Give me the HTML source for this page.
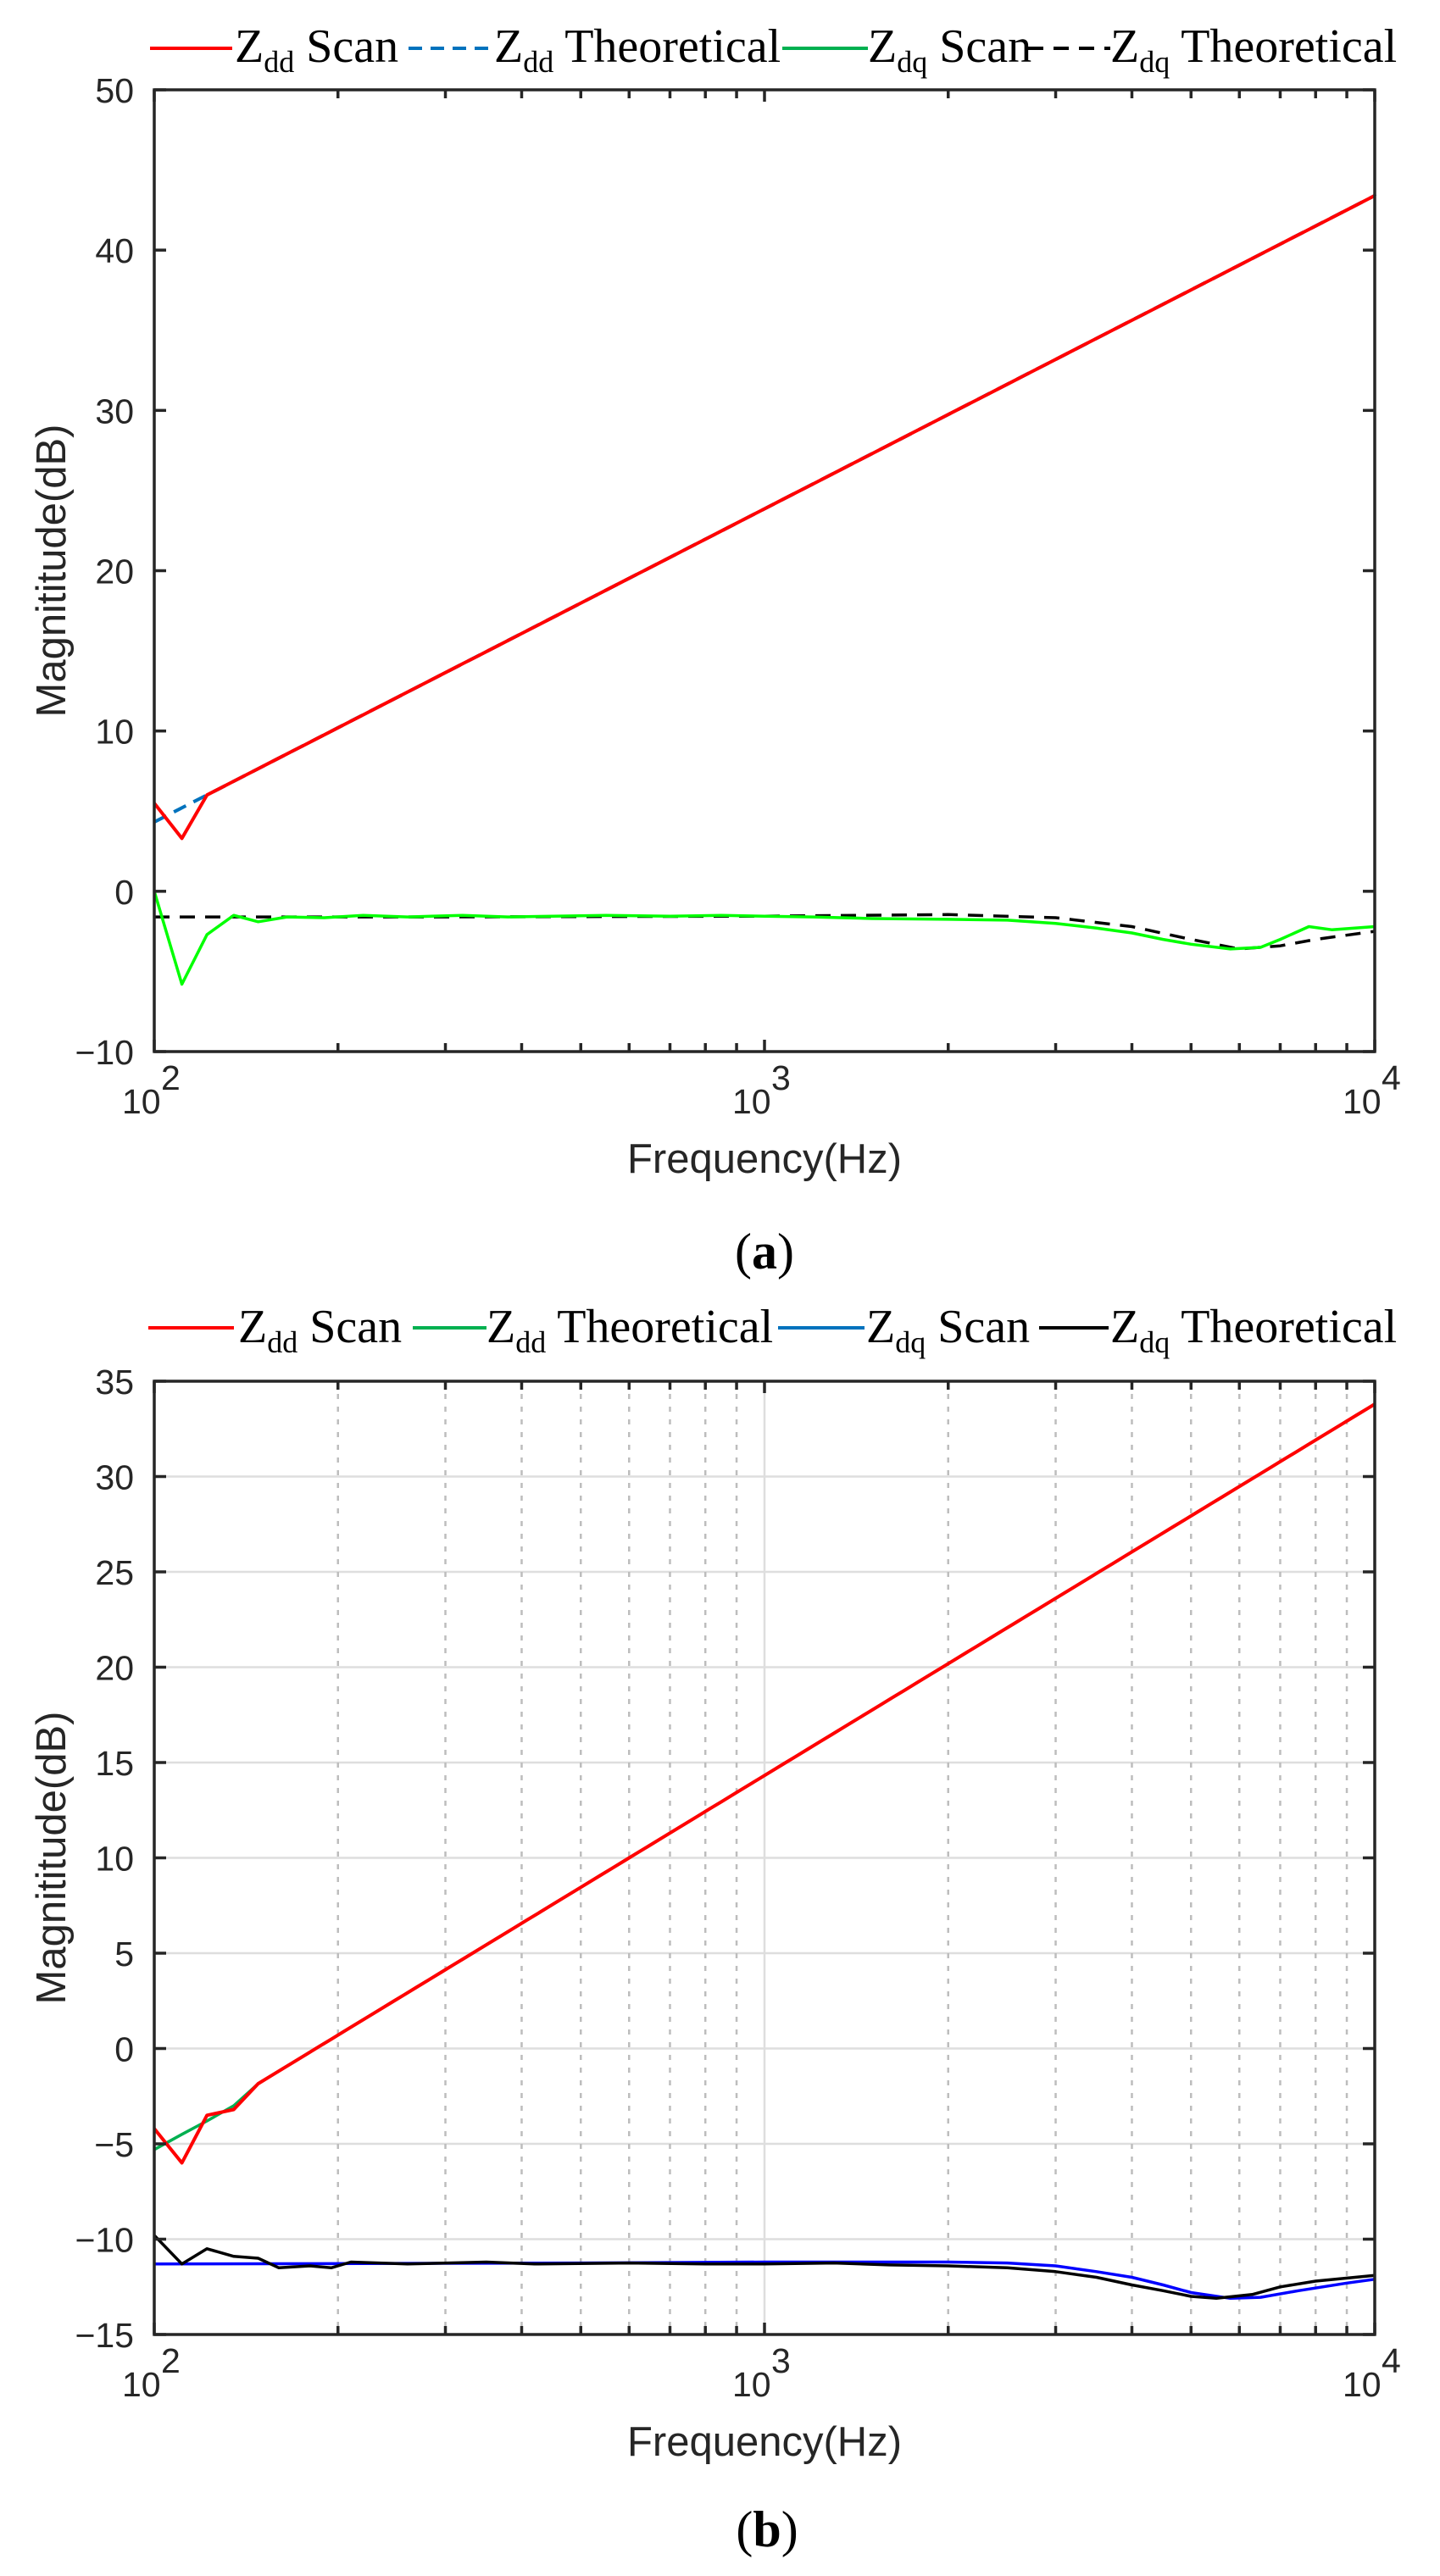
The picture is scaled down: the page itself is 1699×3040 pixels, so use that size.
<!DOCTYPE html>
<html><head><meta charset="utf-8"><style>
html,body{margin:0;padding:0;background:#fff;}
svg{display:block;}
.tk{font-family:"Liberation Sans",Arial,sans-serif;font-size:41px;fill:#262626;}
.lb{font-family:"Liberation Sans",Arial,sans-serif;font-size:49px;fill:#262626;}
.lg{font-family:"Liberation Serif","Times New Roman",serif;font-size:56px;fill:#000;}
.cap{font-family:"Liberation Serif","Times New Roman",serif;font-size:60px;fill:#000;}
</style></head><body>
<svg id="s" width="1699" height="3040" viewBox="0 0 1699 3040" xmlns="http://www.w3.org/2000/svg">
<rect width="1699" height="3040" fill="#fff"/>
<g id="g"></g>
<!-- legend a -->
<line x1="177" y1="57" x2="274" y2="57" stroke="#ff0000" stroke-width="4"/>
<text class="lg" x="277" y="73">Z<tspan font-size="36" dy="12">dd</tspan><tspan dy="-12"> Scan</tspan></text>
<line x1="482" y1="57" x2="583" y2="57" stroke="#0072bd" stroke-width="4" stroke-dasharray="16,10"/>
<text class="lg" x="583" y="73">Z<tspan font-size="36" dy="12">dd</tspan><tspan dy="-12"> Theoretical</tspan></text>
<line x1="923" y1="57" x2="1024" y2="57" stroke="#00b050" stroke-width="4"/>
<text class="lg" x="1024" y="73">Z<tspan font-size="36" dy="12">dq</tspan><tspan dy="-12"> Scan</tspan></text>
<line x1="1213" y1="57" x2="1310" y2="57" stroke="#000" stroke-width="4" stroke-dasharray="18,12"/>
<text class="lg" x="1310" y="73">Z<tspan font-size="36" dy="12">dq</tspan><tspan dy="-12"> Theoretical</tspan></text>
<!-- legend b -->
<line x1="175" y1="1567" x2="276" y2="1567" stroke="#ff0000" stroke-width="4"/>
<text class="lg" x="281" y="1584">Z<tspan font-size="36" dy="12">dd</tspan><tspan dy="-12"> Scan</tspan></text>
<line x1="487" y1="1567" x2="574" y2="1567" stroke="#00b050" stroke-width="4"/>
<text class="lg" x="574" y="1584">Z<tspan font-size="36" dy="12">dd</tspan><tspan dy="-12"> Theoretical</tspan></text>
<line x1="918" y1="1567" x2="1020" y2="1567" stroke="#0072bd" stroke-width="4"/>
<text class="lg" x="1022" y="1584">Z<tspan font-size="36" dy="12">dq</tspan><tspan dy="-12"> Scan</tspan></text>
<line x1="1226" y1="1567" x2="1308" y2="1567" stroke="#000" stroke-width="4"/>
<text class="lg" x="1310" y="1584">Z<tspan font-size="36" dy="12">dq</tspan><tspan dy="-12"> Theoretical</tspan></text>
<!-- captions -->
<text class="cap" x="902" y="1497" text-anchor="middle">(<tspan font-weight="bold">a</tspan>)</text>
<text class="cap" x="905" y="3005" text-anchor="middle">(<tspan font-weight="bold">b</tspan>)</text>
</svg>
<script>
(function(){
var NS="http://www.w3.org/2000/svg",g=document.getElementById("g");
function el(n,a,t){var e=document.createElementNS(NS,n);for(var k in a)e.setAttribute(k,a[k]);if(t!=null)e.textContent=t;g.appendChild(e);return e;}
var L=182,R=1622,DW=720;
function X(f){return L+DW*Math.log10(f/100);}
function axes(top,bot,vmax,vmin,step,grid){
  function Y(v){return top+(vmax-v)*(bot-top)/(vmax-vmin);}
  var minors=[];for(var d=100;d<10000;d*=10)for(var k=2;k<=9;k++)minors.push(d*k);
  if(grid){
    for(var v=vmin;v<=vmax;v+=step) el("line",{x1:L,x2:R,y1:Y(v),y2:Y(v),stroke:"#dedede","stroke-width":2.5});
    minors.forEach(function(f){el("line",{x1:X(f),x2:X(f),y1:top,y2:bot,stroke:"#bdbdbd","stroke-width":2.5,"stroke-dasharray":"6,9"});});
    el("line",{x1:X(1000),x2:X(1000),y1:top,y2:bot,stroke:"#dedede","stroke-width":2.5});
  }
  return Y;
}
function frame(top,bot,vmax,vmin,step,Y){
  el("rect",{x:L,y:top,width:R-L,height:bot-top,fill:"none",stroke:"#262626","stroke-width":3.5});
  for(var v=vmin;v<=vmax;v+=step){
    el("line",{x1:L,x2:L+14,y1:Y(v),y2:Y(v),stroke:"#262626","stroke-width":3.5});
    el("line",{x1:R,x2:R-14,y1:Y(v),y2:Y(v),stroke:"#262626","stroke-width":3.5});
    el("text",{"class":"tk",x:158,y:Y(v)+15,"text-anchor":"end"},(v<0?"\u2212":"")+Math.abs(v));
  }
  for(var d=100;d<=10000;d*=10)for(var k=1;k<=9;k++){var f=d*k;if(f>10000)break;
    var len=(k==1)?14:10;
    el("line",{x1:X(f),x2:X(f),y1:bot,y2:bot-len,stroke:"#262626","stroke-width":3.5});
    el("line",{x1:X(f),x2:X(f),y1:top,y2:top+len,stroke:"#262626","stroke-width":3.5});
  }
  [[100,"2"],[1000,"3"],[10000,"4"]].forEach(function(p){
    el("text",{"class":"tk",x:X(p[0])-38,y:bot+73},"10");
    el("text",{"class":"tk",x:X(p[0])+8,y:bot+45,"font-size":29},p[1]);
  });
  el("text",{"class":"lb",x:(L+R)/2,y:bot+143,"text-anchor":"middle"},"Frequency(Hz)");
  var cy=(top+bot)/2;
  el("text",{"class":"lb",x:77,y:cy,"text-anchor":"middle",transform:"rotate(-90 77 "+cy+")"},"Magnititude(dB)");
}
function poly(pts,Y,col,w,dash){
  var s=pts.map(function(p){return X(p[0]).toFixed(1)+","+Y(p[1]).toFixed(1);}).join(" ");
  var a={points:s,fill:"none",stroke:col,"stroke-width":w,"stroke-linejoin":"round"};
  if(dash)a["stroke-dasharray"]=dash;el("polyline",a);
}
function line(f0,a,b){var p=[];for(var lf=Math.log10(f0);lf<=4.0001;lf+=0.02){p.push([Math.pow(10,lf),a-b*(4-lf)]);}p.push([10000,a]);return p;}
// Plot a
var Ya=axes(106,1241,50,-10,10,false);
var zddT=line(100,43.4,19.54);
poly(zddT,Ya,"#0072bd",4,"16,10");
var zdd=[[100,5.5],[111,3.3]].concat(line(122,43.4,19.54));
poly(zdd,Ya,"#ff0000",4);
var dqT=[[100,-1.6],[300,-1.6],[1000,-1.55],[2000,-1.45],[3000,-1.65],[4000,-2.2],[5000,-3.0],[6000,-3.6],[7000,-3.4],[8000,-3.0],[10000,-2.5]];
poly(dqT,Ya,"#000",3.5,"18,12");
var dq=[[100,0],[111,-5.8],[122,-2.7],[135,-1.5],[148,-1.9],[165,-1.6],[190,-1.65],[220,-1.5],[260,-1.6],[320,-1.5],[380,-1.6],[450,-1.55],[550,-1.5],[700,-1.55],[850,-1.5],[1000,-1.55],[1200,-1.6],[1500,-1.7],[2000,-1.75],[2500,-1.8],[3000,-2.0],[3500,-2.3],[4000,-2.6],[4500,-3.0],[5000,-3.3],[5800,-3.6],[6500,-3.5],[7000,-3.0],[7800,-2.2],[8500,-2.4],[10000,-2.2]];
poly(dq,Ya,"#00ff00",3.5);
frame(106,1241,50,-10,10,Ya);
// Plot b
var Yb=axes(1630,2755,35,-15,5,true);
var bT=[[100,-5.3],[111,-4.5],[122,-3.8],[135,-3.0]].concat(line(148,33.8,19.48));
poly(bT,Yb,"#00b050",3.5);
var bS=[[100,-4.2],[111,-6.0],[122,-3.5],[135,-3.2]].concat(line(148,33.8,19.48));
poly(bS,Yb,"#ff0000",4);
var bq=[[100,-11.3],[500,-11.25],[1000,-11.2],[2000,-11.2],[2500,-11.25],[3000,-11.4],[3500,-11.7],[4000,-12.0],[4500,-12.4],[5000,-12.8],[5800,-13.1],[6500,-13.05],[7500,-12.7],[9000,-12.3],[10000,-12.1]];
poly(bq,Yb,"#0000ff",3.5);
var bqT=[[100,-9.8],[111,-11.3],[122,-10.5],[135,-10.9],[148,-11.0],[160,-11.5],[180,-11.4],[195,-11.5],[210,-11.2],[260,-11.3],[350,-11.2],[420,-11.3],[600,-11.25],[800,-11.3],[1000,-11.3],[1300,-11.25],[1600,-11.35],[2000,-11.4],[2500,-11.5],[3000,-11.7],[3500,-12.0],[4000,-12.4],[4500,-12.7],[5000,-13.0],[5500,-13.1],[6300,-12.9],[7000,-12.5],[8000,-12.2],[10000,-11.9]];
poly(bqT,Yb,"#000",3.5);
frame(1630,2755,35,-15,5,Yb);
})();
</script>
</body></html>
